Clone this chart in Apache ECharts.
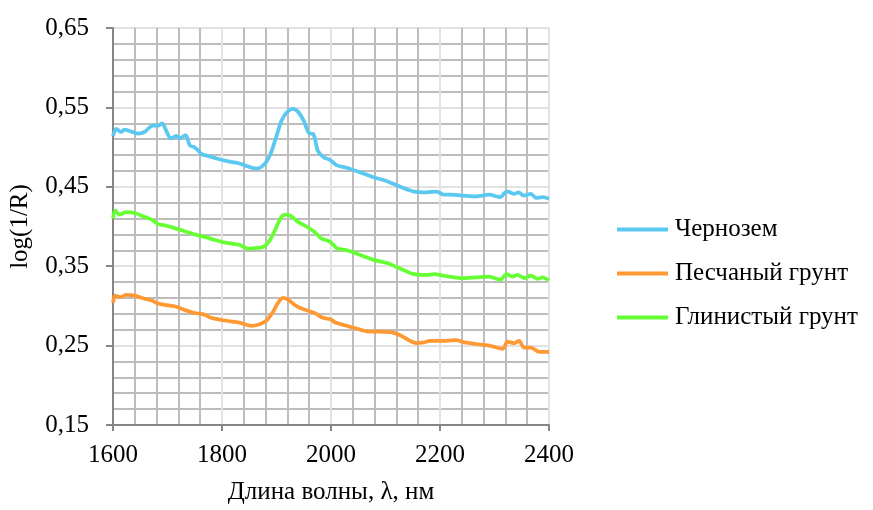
<!DOCTYPE html>
<html>
<head>
<meta charset="utf-8">
<script src="https://cdn.jsdelivr.net/npm/echarts@6/dist/echarts.min.js"></script>
<style>
html,body{margin:0;padding:0;background:#fff;}
#c{width:873px;height:510px;}
</style>
</head>
<body>
<div id="c"></div>
<script>
const seriesNames = ['Чернозем', 'Песчаный грунт', 'Глинистый грунт'];
const xTicks = [1600, 1800, 2000, 2200, 2400];
const yTickLabels = ['0,15', '0,25', '0,35', '0,45', '0,55', '0,65'];

const chernozemX = [1600,1606,1615,1621,1646,1658,1673,1683,1690,1698,1706,1716,1722,1733,1741,1749,1756,1763,1774,1793,1811,1829,1842,1863,1872,1881,1890,1900,1909,1918,1930,1939,1950,1959,1968,1976,1987,1998,2011,2029,2054,2078,2103,2127,2152,2176,2194,2207,2217,2241,2266,2290,2311,2318,2324,2336,2344,2353,2367,2376,2388,2400];
const chernozemY = [0.514,0.523,0.519,0.522,0.517,0.519,0.527,0.527,0.530,0.520,0.511,0.514,0.511,0.515,0.502,0.500,0.496,0.491,0.489,0.485,0.482,0.480,0.477,0.473,0.475,0.481,0.493,0.514,0.533,0.543,0.548,0.545,0.533,0.518,0.516,0.495,0.487,0.484,0.477,0.474,0.468,0.462,0.457,0.450,0.444,0.443,0.444,0.440,0.440,0.439,0.438,0.440,0.437,0.442,0.444,0.441,0.443,0.439,0.441,0.436,0.437,0.435];

const sandX = [1600,1604,1614,1624,1640,1658,1670,1683,1698,1716,1731,1750,1768,1780,1793,1811,1832,1854,1869,1881,1894,1903,1912,1921,1936,1952,1970,1985,2000,2008,2023,2042,2066,2090,2109,2127,2145,2158,2170,2182,2200,2211,2229,2245,2266,2290,2315,2324,2336,2345,2354,2367,2382,2400];
const sandY = [0.304,0.313,0.311,0.314,0.313,0.309,0.307,0.303,0.301,0.299,0.295,0.291,0.289,0.285,0.283,0.281,0.279,0.275,0.277,0.281,0.293,0.304,0.310,0.308,0.300,0.295,0.291,0.285,0.283,0.279,0.276,0.2725,0.268,0.2675,0.267,0.263,0.256,0.253,0.254,0.256,0.256,0.256,0.257,0.254,0.252,0.250,0.246,0.255,0.253,0.256,0.2475,0.2475,0.242,0.242];

const clayX = [1600,1604,1612,1624,1640,1658,1670,1683,1698,1713,1731,1750,1768,1787,1811,1832,1848,1866,1878,1888,1897,1909,1918,1927,1939,1955,1970,1982,1998,2011,2029,2054,2078,2103,2127,2152,2176,2189,2207,2217,2241,2266,2290,2311,2322,2333,2342,2356,2367,2379,2388,2400];
const clayY = [0.410,0.420,0.415,0.418,0.417,0.412,0.409,0.403,0.401,0.398,0.394,0.390,0.387,0.383,0.379,0.377,0.372,0.373,0.375,0.383,0.395,0.412,0.415,0.413,0.406,0.400,0.393,0.385,0.381,0.3725,0.370,0.364,0.358,0.354,0.347,0.340,0.339,0.340,0.338,0.337,0.335,0.336,0.337,0.333,0.340,0.337,0.339,0.335,0.338,0.334,0.336,0.332];

const colors = ['#5BC8F2', '#FF9933', '#66FF33'];

// y axis runs 0.15..0.65; ECharts ticks from multiples of interval, so the
// axis works on (value - Y_BASE) and labels add Y_BASE back.
const Y_BASE = 0.15;
const pairs = (xs, ys) => xs.map((x, i) => [x, +(ys[i] - Y_BASE).toFixed(4)]);

const font = 'Liberation Serif, Times New Roman, serif';
const FS = 25;
const chart = echarts.init(document.getElementById('c'), null, {renderer: 'canvas'});
chart.setOption({
  animation: false,
  backgroundColor: '#fff',
  grid: {left: 113, right: 324, top: 28, bottom: 82, containLabel: false},
  legend: {
    orient: 'vertical', left: 612, top: 212,
    itemWidth: 51, itemHeight: 4, itemGap: 19,
    icon: 'rect',
    textStyle: {fontFamily: font, fontSize: FS, color: '#000', padding: [0,0,0,2]},
    data: seriesNames
  },
  xAxis: {
    type: 'value', min: xTicks[0], max: xTicks[xTicks.length-1], interval: 200,
    name: 'Длина волны, λ, нм', nameLocation: 'middle', nameGap: 55,
    nameTextStyle: {fontFamily: font, fontSize: FS, color: '#000'},
    axisLine: {show: true, lineStyle: {color: '#868686', width: 2}},
    axisTick: {show: true, length: 6, lineStyle: {color: '#868686', width: 2}},
    minorTick: {show: false, splitNumber: 5},
    axisLabel: {fontFamily: font, fontSize: FS, color: '#000', margin: 18, formatter: v => String(v)},
    splitLine: {show: true, lineStyle: {color: '#e2e2e2', width: 2}},
    minorSplitLine: {show: true, lineStyle: {color: '#bdbdbd', width: 2}}
  },
  yAxis: {
    type: 'value', min: 0, max: 0.5, interval: 0.1,
    name: 'log(1/R)', nameLocation: 'middle', nameGap: 80,
    nameTextStyle: {fontFamily: font, fontSize: FS, color: '#000'},
    axisLine: {show: true, lineStyle: {color: '#868686', width: 2}},
    axisTick: {show: true, inside: false, length: 7, lineStyle: {color: '#868686', width: 2}},
    minorTick: {show: false, splitNumber: 5},
    axisLabel: {
      fontFamily: font, fontSize: FS, color: '#000', margin: 24,
      formatter: v => { const i = Math.round(v / 0.1); return yTickLabels[i] !== undefined ? yTickLabels[i] : ''; }
    },
    splitLine: {show: true, lineStyle: {color: '#e2e2e2', width: 2}},
    minorSplitLine: {show: true, lineStyle: {color: '#bdbdbd', width: 2}}
  },
  series: [
    {name: seriesNames[0], type: 'line', data: pairs(chernozemX, chernozemY), symbol: 'none', smooth: 0.3,
     lineStyle: {color: colors[0], width: 3.75}, itemStyle: {color: colors[0]}},
    {name: seriesNames[1], type: 'line', data: pairs(sandX, sandY), symbol: 'none', smooth: 0.3,
     lineStyle: {color: colors[1], width: 3.75}, itemStyle: {color: colors[1]}},
    {name: seriesNames[2], type: 'line', data: pairs(clayX, clayY), symbol: 'none', smooth: 0.3,
     lineStyle: {color: colors[2], width: 3.75}, itemStyle: {color: colors[2]}}
  ]
});
</script>
</body>
</html>
